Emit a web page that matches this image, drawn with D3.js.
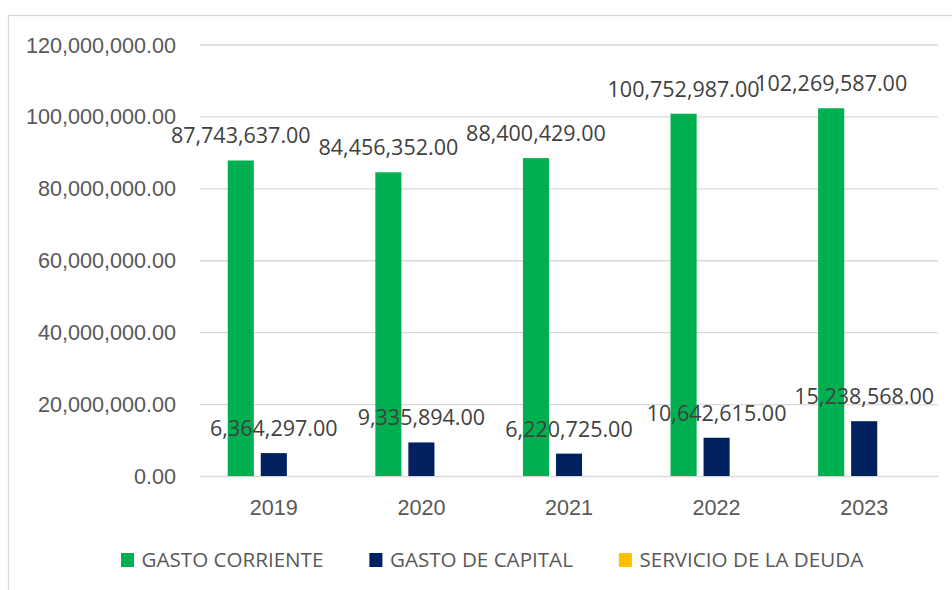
<!DOCTYPE html>
<html>
<head>
<meta charset="utf-8">
<style>
  body { margin: 0; background: #ffffff; }
  svg { display: block; font-family: "Open Sans", sans-serif; }
  .axis text { fill: #595959; font-size: 21.6px; }
  .label { fill: #404040; font-size: 21.5px; }
  .legend text { fill: #595959; font-size: 20.6px; }
</style>
<script src="https://cdn.jsdelivr.net/npm/d3@7"></script>
</head>
<body>
<svg id="chart" width="952" height="590"></svg>
<script>
// data
let years = ["2019", "2020", "2021", "2022", "2023"];
let series = ["GASTO CORRIENTE", "GASTO DE CAPITAL", "SERVICIO DE LA DEUDA"];
let gastoCorriente = [87743637, 84456352, 88400429, 100752987, 102269587];
let gastoCapital = [6364297, 9335894, 6220725, 10642615, 15238568];
let servicioDeuda = [null, null, null, null, null];
let colors = ["#00b050", "#002060", "#ffc000"];
let yTicks = [0, 20000000, 40000000, 60000000, 80000000, 100000000, 120000000];

let values = [gastoCorriente, gastoCapital, servicioDeuda];
let fmt = d3.format(",.2f");

let svg = d3.select("#chart");
let plotLeft = 200, plotRight = 938, plotTop = 44.5, plotBottom = 476;

// chart frame (only top / left edges are in view)
svg.append("rect")
  .attr("x", 8.5).attr("y", 15.5)
  .attr("width", 1000).attr("height", 700)
  .attr("fill", "none").attr("stroke", "#d9d9d9").attr("stroke-width", 1.3);

let y = d3.scaleLinear().domain([0, 120000000]).range([plotBottom, plotTop]);
let x0 = d3.scaleBand().domain(years).range([plotLeft, plotRight]).padding(0);
let x1 = d3.scaleBand().domain(series).range([0, x0.bandwidth()])
  .paddingInner(0.21).paddingOuter(0.84);

// gridlines
let grid = svg.append("g").attr("transform", "translate(" + plotLeft + ",0)")
  .call(d3.axisLeft(y).tickValues(yTicks).tickSize(-(plotRight - plotLeft)).tickFormat(""));
grid.select(".domain").remove();
grid.selectAll("line").attr("stroke", "#d9d9d9").attr("stroke-width", 1.3);

// y axis labels
let yAxis = svg.append("g").attr("class", "axis")
  .attr("transform", "translate(176,0)")
  .call(d3.axisLeft(y).tickValues(yTicks).tickSize(0).tickPadding(0).tickFormat(fmt));
yAxis.select(".domain").remove();
yAxis.selectAll("text").attr("dy", "0.35em");

// x axis labels
let xAxis = svg.append("g").attr("class", "axis")
  .attr("transform", "translate(0," + plotBottom + ")")
  .call(d3.axisBottom(x0).tickSize(0).tickPadding(0));
xAxis.select(".domain").remove();
xAxis.selectAll("text").attr("dy", null).attr("y", 39);

// bars
series.forEach(function(s, i) {
  let rows = years.map(function(yr, j) { return {year: yr, v: values[i][j]}; })
    .filter(function(d) { return d.v != null; });
  let g = svg.append("g");
  g.selectAll("rect").data(rows).enter().append("rect")
    .attr("x", d => x0(d.year) + x1(s))
    .attr("y", d => y(d.v))
    .attr("width", x1.bandwidth())
    .attr("height", d => plotBottom - y(d.v))
    .attr("fill", colors[i]);
  g.selectAll("text").data(rows).enter().append("text")
    .attr("class", "label")
    .attr("x", d => x0(d.year) + x1(s) + x1.bandwidth() / 2)
    .attr("y", d => y(d.v) - 17)
    .attr("text-anchor", "middle")
    .text(d => fmt(d.v));
});

// legend
let legend = svg.append("g").attr("class", "legend");
let lx = 121;
series.forEach(function(s, i) {
  legend.append("rect")
    .attr("x", lx).attr("y", 553)
    .attr("width", 13).attr("height", 14)
    .attr("fill", colors[i]);
  let t = legend.append("text")
    .attr("x", lx + 20.5).attr("y", 567)
    .text(s);
  lx = lx + 20.5 + t.node().getComputedTextLength() + 46;
});
</script>
</body>
</html>
